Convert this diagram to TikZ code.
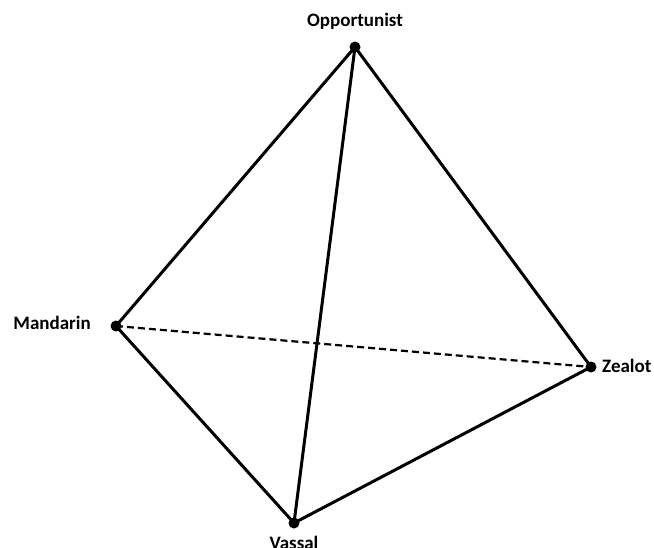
\documentclass[tikz,border=0pt]{standalone}
\usepackage{fontspec}
\setmainfont{Carlito}
\begin{document}
\begin{tikzpicture}[x=1pt,y=-1pt,
  edge/.style={line width=3pt,line cap=round,line join=round},
  hidden/.style={line width=2.2pt,dash pattern=on 7pt off 4pt},
  vtx/.style={circle,fill=black,inner sep=0pt,minimum size=11pt},
  lab/.style={font=\bfseries\fontsize{19}{22}\selectfont,inner sep=0pt}]
\useasboundingbox (0,0) rectangle (654,547);
\node[vtx] (O) at (355,47) {};
\node[vtx] (M) at (116,326) {};
\node[vtx] (Z) at (591,367) {};
\node[vtx] (V) at (294,523) {};
\draw[hidden] (M.center) -- (Z.center);
\draw[edge] (O.center) -- (M.center) -- (V.center) -- (Z.center) -- (O.center) -- (V.center);
\node[lab] (lo) at (355,21) {Opportunist};
\node[lab,anchor=east] (lm) at (91,323) {Mandarin};
\node[lab,anchor=west] (lz) at (602,366) {Zealot};
\node[lab,anchor=north] (lv) at (294,536) {Vassal};
\end{tikzpicture}
\end{document}
